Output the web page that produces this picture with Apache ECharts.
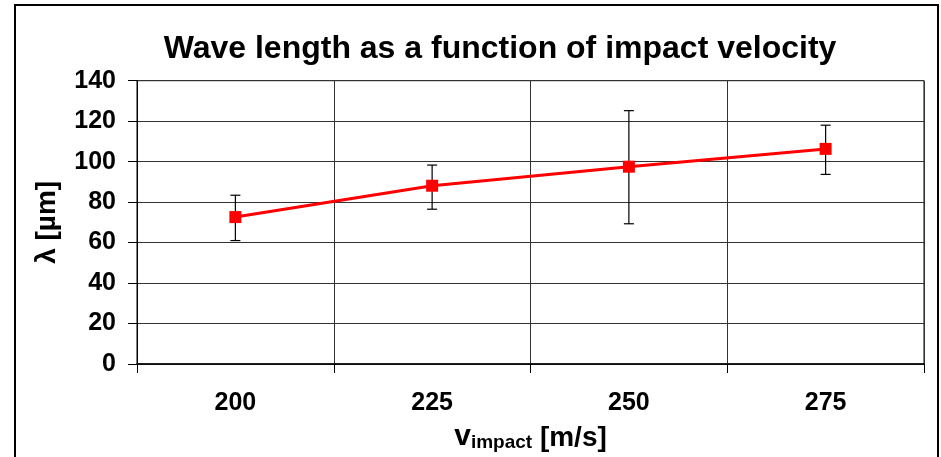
<!DOCTYPE html>
<html>
<head>
<meta charset="utf-8">
<script src="https://cdn.jsdelivr.net/npm/echarts@6/dist/echarts.min.js"></script>
<style>
html,body{margin:0;padding:0;background:#fff;}
#c{width:941px;height:457px;}
</style>
</head>
<body>
<div id="c"></div>
<script>
const categories = ['200', '225', '250', '275'];
const lambdaMean = [72.6, 88.1, 97.5, 106.3];
const errLow = [61.0, 76.5, 69.3, 93.7];
const errHigh = [83.4, 98.3, 125.2, 118.0];
const yTicks = [0, 20, 40, 60, 80, 100, 120, 140];

const FONT = '"Liberation Sans", Arial, sans-serif';
const chart = echarts.init(document.getElementById('c'), null, {renderer: 'canvas'});

const errData = categories.map((c, i) => [i, errLow[i], errHigh[i]]);

chart.setOption({
  backgroundColor: '#fff',
  animation: false,
  graphic: [
    {
      type: 'rect', z: 100, silent: true,
      shape: {x: 15, y: 5, width: 923, height: 470},
      style: {fill: 'none', stroke: '#000', lineWidth: 2}
    },
    {
      type: 'text', z: 100, silent: true,
      x: 500, y: 49,
      style: {
        text: 'Wave length as a function of impact velocity',
        fontFamily: FONT, fontWeight: 'bold', fontSize: 32,
        fill: '#000', align: 'center', verticalAlign: 'middle'
      }
    }
  ],
  grid: {
    left: 137, right: 17, top: 80.7, bottom: 91.7,
    show: true, borderColor: '#000', borderWidth: 1, containLabel: false
  },
  xAxis: {
    type: 'category',
    data: categories,
    boundaryGap: true,
    axisLine: {show: true, lineStyle: {color: '#000', width: 1.5}},
    axisTick: {show: true, length: 9, alignWithLabel: false, lineStyle: {color: '#000'}},
    splitLine: {show: true, lineStyle: {color: '#333', width: 1}},
    axisLabel: {
      margin: 27, color: '#000', fontFamily: FONT, fontWeight: 'bold', fontSize: 25
    },
    name: '{v|v}{s|impact}{b| [m/s]}',
    nameLocation: 'middle',
    nameGap: 60,
    nameTextStyle: {
      color: '#000', fontFamily: FONT, fontWeight: 'bold',
      rich: {
        v: {fontFamily: FONT, fontWeight: 'bold', fontSize: 30, lineHeight: 28, verticalAlign: 'bottom', color: '#000'},
        s: {fontFamily: FONT, fontWeight: 'bold', fontSize: 19, lineHeight: 14, verticalAlign: 'bottom', color: '#000'},
        b: {fontFamily: FONT, fontWeight: 'bold', fontSize: 28, lineHeight: 28, verticalAlign: 'bottom', color: '#000'}
      }
    }
  },
  yAxis: {
    type: 'value',
    min: yTicks[0], max: yTicks[yTicks.length - 1], interval: 20,
    axisLine: {show: true, lineStyle: {color: '#000', width: 1}},
    axisTick: {show: true, length: 9, lineStyle: {color: '#000'}},
    splitLine: {show: true, lineStyle: {color: '#333', width: 1}},
    axisLabel: {
      margin: 21, color: '#000', fontFamily: FONT, fontWeight: 'bold', fontSize: 25
    },
    name: 'λ [µm]',
    nameLocation: 'middle',
    nameGap: 76,
    nameRotate: 90,
    nameTextStyle: {color: '#000', fontFamily: FONT, fontWeight: 'bold', fontSize: 28}
  },
  series: [
    {
      type: 'custom',
      z: 2,
      data: errData,
      renderItem: function (params, api) {
        const x = api.value(0);
        const lo = api.coord([x, api.value(1)]);
        const hi = api.coord([x, api.value(2)]);
        const cap = 5;
        const st = {stroke: '#000', lineWidth: 1.2};
        return {
          type: 'group',
          children: [
            {type: 'line', shape: {x1: lo[0], y1: lo[1], x2: hi[0], y2: hi[1]}, style: st},
            {type: 'line', shape: {x1: lo[0] - cap, y1: lo[1], x2: lo[0] + cap, y2: lo[1]}, style: st},
            {type: 'line', shape: {x1: hi[0] - cap, y1: hi[1], x2: hi[0] + cap, y2: hi[1]}, style: st}
          ]
        };
      }
    },
    {
      type: 'line',
      z: 5,
      data: lambdaMean,
      symbol: 'rect',
      symbolSize: 12,
      lineStyle: {color: '#ff0000', width: 3},
      itemStyle: {color: '#ff0000'}
    }
  ]
});
</script>
</body>
</html>
